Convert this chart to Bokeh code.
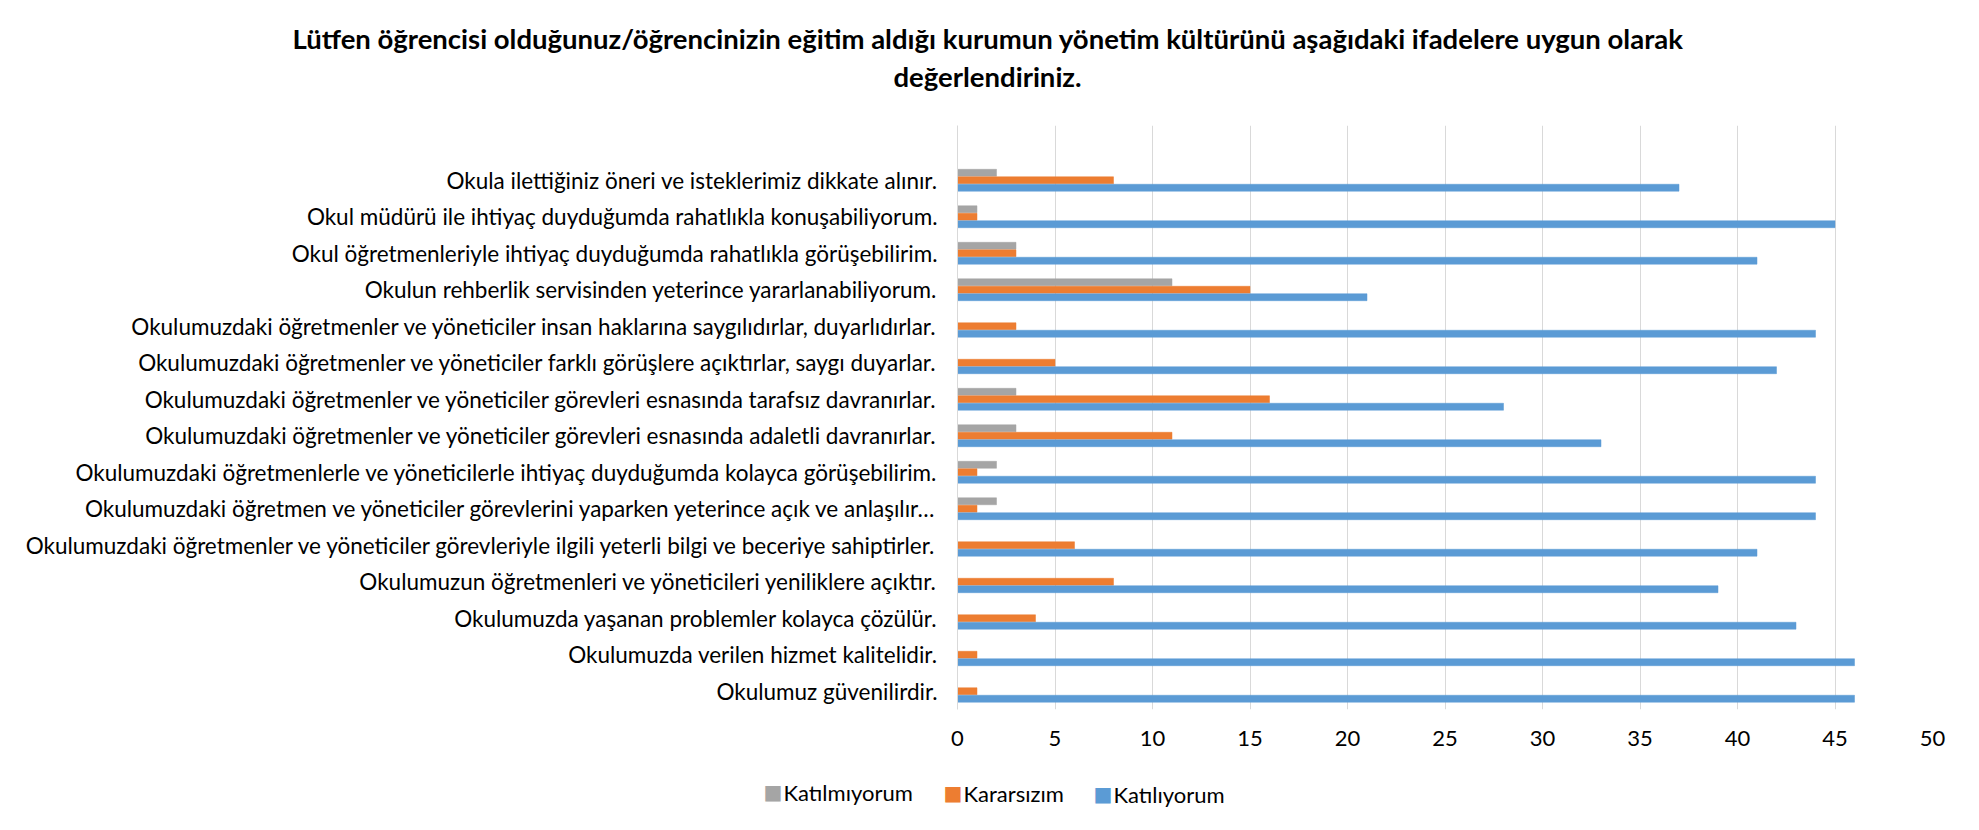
from bokeh.plotting import figure
from bokeh.models import ColumnDataSource, FixedTicker, Range1d, Title
from bokeh.transform import dodge
from bokeh.embed import file_html
from bokeh.resources import INLINE

# Categories, top to bottom as shown
categories = [
    "Okula ilettiğiniz öneri ve isteklerimiz dikkate alınır.",
    "Okul müdürü ile ihtiyaç duyduğumda rahatlıkla konuşabiliyorum.",
    "Okul öğretmenleriyle ihtiyaç duyduğumda rahatlıkla görüşebilirim.",
    "Okulun rehberlik servisinden yeterince yararlanabiliyorum.",
    "Okulumuzdaki öğretmenler ve yöneticiler insan haklarına saygılıdırlar, duyarlıdırlar.",
    "Okulumuzdaki öğretmenler ve yöneticiler farklı görüşlere açıktırlar, saygı duyarlar.",
    "Okulumuzdaki öğretmenler ve yöneticiler görevleri esnasında tarafsız davranırlar.",
    "Okulumuzdaki öğretmenler ve yöneticiler görevleri esnasında adaletli davranırlar.",
    "Okulumuzdaki öğretmenlerle ve yöneticilerle ihtiyaç duyduğumda kolayca görüşebilirim.",
    "Okulumuzdaki öğretmen ve yöneticiler görevlerini yaparken yeterince açık ve anlaşılır…",
    "Okulumuzdaki öğretmenler ve yöneticiler görevleriyle ilgili yeterli bilgi ve beceriye sahiptirler.",
    "Okulumuzun öğretmenleri ve yöneticileri yeniliklere açıktır.",
    "Okulumuzda yaşanan problemler kolayca çözülür.",
    "Okulumuzda verilen hizmet kalitelidir.",
    "Okulumuz güvenilirdir.",
]
katilmiyorum = [2, 1, 3, 11, 0, 0, 3, 3, 2, 2, 0, 0, 0, 0, 0]
kararsizim = [8, 1, 3, 15, 3, 5, 16, 11, 1, 1, 6, 8, 4, 1, 1]
katiliyorum = [37, 45, 41, 21, 44, 42, 28, 33, 44, 44, 41, 39, 43, 46, 46]
series_names = ["Katılmıyorum", "Kararsızım", "Katılıyorum"]
series_colors = ["#A5A5A5", "#ED7D31", "#5B9BD5"]
x_ticks = [0, 5, 10, 15, 20, 25, 30, 35, 40, 45, 50]
title_lines = [
    "Lütfen öğrencisi olduğunuz/öğrencinizin eğitim aldığı kurumun yönetim kültürünü aşağıdaki ifadelere uygun olarak",
    "değerlendiriniz.",
]

n = len(categories)
ypos = [n - 1 - i for i in range(n)]
src = ColumnDataSource(dict(y=ypos, a=katilmiyorum, b=kararsizim, c=katiliyorum))

FONT = "Lato"

p = figure(frame_width=975, frame_height=584, output_backend="svg", toolbar_location=None,
           x_range=Range1d(0, 50), y_range=Range1d(-0.5, n + 0.5),
           min_border_left=957, min_border_right=43, min_border_top=125, min_border_bottom=117)
p.outline_line_color = None

offsets = [0.205, 0.0, -0.205]
cols = ["a", "b", "c"]
for col, off, color, nm in zip(cols, offsets, series_colors, series_names):
    p.hbar(y=dodge("y", off), right=col, left=0, height=0.19, source=src,
           fill_color=color, line_color=color, line_width=0.5, name=nm)

p.xaxis.ticker = FixedTicker(ticks=x_ticks)
p.xaxis.axis_line_color = None
p.xaxis.major_tick_line_color = None
p.xaxis.minor_tick_line_color = None
p.xaxis.major_label_text_font = FONT
p.xaxis.major_label_text_font_size = "22px"
p.xaxis.major_label_text_color = "#000000"
p.xaxis.major_label_standoff = 15

p.yaxis.ticker = FixedTicker(ticks=ypos)
p.yaxis.major_label_overrides = {yy: c for yy, c in zip(ypos, categories)}
p.yaxis.axis_line_color = "#D9D9D9"
p.yaxis.major_tick_line_color = None
p.yaxis.minor_tick_line_color = None
p.yaxis.major_label_text_font = FONT
p.yaxis.major_label_text_font_size = "22.5px"
p.yaxis.major_label_text_color = "#000000"
p.yaxis.major_label_standoff = 14

p.xgrid.grid_line_color = "#D9D9D9"
p.ygrid.grid_line_color = None

# ---- title (panels above the plot area) ----
p.add_layout(Title(text=" ", standoff=2, text_font=FONT, text_font_size="24px"), "above")
p.add_layout(Title(text=title_lines[1], align="left", offset=-64, standoff=0,
                   text_font=FONT, text_font_style="bold", text_font_size="27.5px",
                   text_color="#000000"), "above")
p.add_layout(Title(text=title_lines[0], align="left", offset=-665, standoff=6,
                   text_font=FONT, text_font_style="bold", text_font_size="27.5px",
                   text_color="#000000"), "above")

# ---- legend row (panels below the axis) ----
p.add_layout(Title(text=" ", standoff=12.6, text_font=FONT, text_font_size="22px"), "below")
legend_x = [(-194, -174), (-14, 6), (136, 156)]
for (xs, xt), nm, color in zip(legend_x, series_names, series_colors):
    p.add_layout(Title(text="■", align="left", offset=xs, standoff=-27.6,
                       text_font="DejaVu Sans", text_font_size="20px",
                       text_color=color), "below")
    p.add_layout(Title(text=nm, align="left", offset=xt, standoff=-28.4,
                       text_font=FONT, text_font_style="normal", text_font_size="22px",
                       text_color="#000000"), "below")

open("out.html", "w").write(file_html(p, INLINE))
